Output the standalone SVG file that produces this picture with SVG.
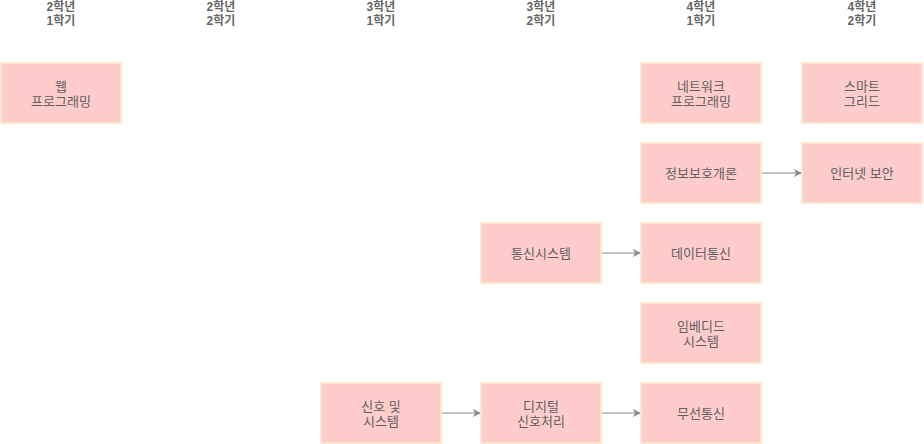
<svg xmlns="http://www.w3.org/2000/svg" width="924" height="444" viewBox="0 0 924 444">
<style>
.hd{font-family:"Liberation Sans","Noto Sans CJK KR",sans-serif;font-size:12px;font-weight:bold;fill:#666;text-anchor:middle}
.bx{fill:#ffcccc;stroke:#ffe6cc;stroke-width:2}
.lb{font-family:"Liberation Sans","Noto Sans CJK KR",sans-serif;font-size:13px;fill:#606060;text-anchor:middle}
.cn{stroke:#888;stroke-width:1;fill:none;marker-end:url(#ah)}
</style>
<defs>
<marker id="ah" viewBox="0 0 10 10" refX="9" refY="5" markerWidth="8" markerHeight="8" markerUnits="userSpaceOnUse" orient="auto">
<path d="M0,0 L10,5 L0,10 L3,5 Z" fill="#888"/>
</marker>
</defs>
<g id="headers">
<text class="hd" x="61" y="11">2학년</text><text class="hd" x="61" y="25">1학기</text>
<text class="hd" x="221" y="11">2학년</text><text class="hd" x="221" y="25">2학기</text>
<text class="hd" x="381" y="11">3학년</text><text class="hd" x="381" y="25">1학기</text>
<text class="hd" x="541" y="11">3학년</text><text class="hd" x="541" y="25">2학기</text>
<text class="hd" x="701" y="11">4학년</text><text class="hd" x="701" y="25">1학기</text>
<text class="hd" x="862" y="11">4학년</text><text class="hd" x="862" y="25">2학기</text>
</g>
<g id="web">
<rect class="bx" x="1" y="63" width="120" height="60"/>
<text class="lb" x="61" y="91">웹</text><text class="lb" x="61" y="106">프로그래밍</text>
</g>
<g id="netprog">
<rect class="bx" x="641" y="63" width="120" height="60"/>
<text class="lb" x="701" y="91">네트워크</text><text class="lb" x="701" y="106">프로그래밍</text>
</g>
<g id="smartgrid">
<rect class="bx" x="802" y="63" width="120" height="60"/>
<text class="lb" x="862" y="91">스마트</text><text class="lb" x="862" y="106">그리드</text>
</g>
<g id="infosec">
<rect class="bx" x="641" y="143" width="120" height="60"/>
<text class="lb" x="701" y="178">정보보호개론</text>
</g>
<g id="inetsec">
<rect class="bx" x="802" y="143" width="120" height="60"/>
<text class="lb" x="862" y="178">인터넷 보안</text>
</g>
<g id="commsys">
<rect class="bx" x="481" y="223" width="120" height="60"/>
<text class="lb" x="541" y="258">통신시스템</text>
</g>
<g id="datacomm">
<rect class="bx" x="641" y="223" width="120" height="60"/>
<text class="lb" x="701" y="258">데이터통신</text>
</g>
<g id="embedded">
<rect class="bx" x="641" y="303" width="120" height="60"/>
<text class="lb" x="701" y="331">임베디드</text><text class="lb" x="701" y="346">시스템</text>
</g>
<g id="signals">
<rect class="bx" x="321" y="383" width="120" height="60"/>
<text class="lb" x="381" y="411">신호 및</text><text class="lb" x="381" y="426">시스템</text>
</g>
<g id="dsp">
<rect class="bx" x="481" y="383" width="120" height="60"/>
<text class="lb" x="541" y="411">디지털</text><text class="lb" x="541" y="426">신호처리</text>
</g>
<g id="wireless">
<rect class="bx" x="641" y="383" width="120" height="60"/>
<text class="lb" x="701" y="418">무선통신</text>
</g>
<g id="connectors">
<line class="cn" x1="762" y1="173" x2="801" y2="173"/>
<line class="cn" x1="602" y1="253" x2="640" y2="253"/>
<line class="cn" x1="442" y1="413" x2="480" y2="413"/>
<line class="cn" x1="602" y1="413" x2="640" y2="413"/>
</g>
</svg>
